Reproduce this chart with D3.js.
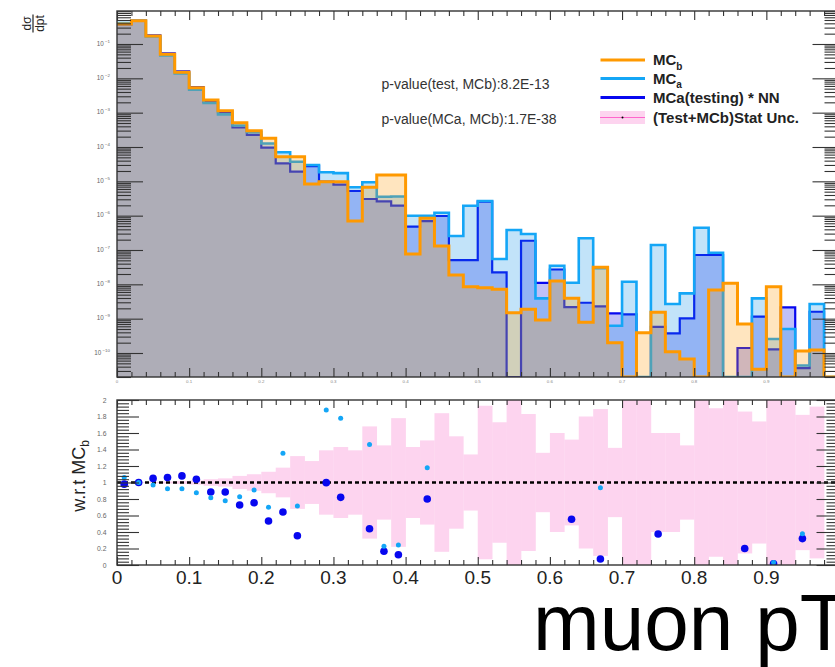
<!DOCTYPE html>
<html>
<head>
<meta charset="utf-8">
<title>muon pT</title>
<script src="https://cdn.jsdelivr.net/npm/d3@7"></script>
<style>
  html, body { margin: 0; padding: 0; background: #fff; }
  svg { display: block; }
  text { font-family: "Liberation Sans", Arial, Helvetica, sans-serif; }
</style>
</head>
<body>
<svg id="chart" width="835" height="667"></svg>
<script>
// ---- binning in muon pT: 50 bins of width 0.02 ----
const binEdges = [0.00, 0.02, 0.04, 0.06, 0.08, 0.10, 0.12, 0.14, 0.16, 0.18,
                  0.20, 0.22, 0.24, 0.26, 0.28, 0.30, 0.32, 0.34, 0.36, 0.38,
                  0.40, 0.42, 0.44, 0.46, 0.48, 0.50, 0.52, 0.54, 0.56, 0.58,
                  0.60, 0.62, 0.64, 0.66, 0.68, 0.70, 0.72, 0.74, 0.76, 0.78,
                  0.80, 0.82, 0.84, 0.86, 0.88, 0.90, 0.92, 0.94, 0.96, 0.98, 1.00];

// normalised d(sigma)/dpT per bin
const mcb = [3.83e-1, 4.77e-1, 1.71e-1, 5.01e-2, 1.50e-2, 5.33e-3, 2.34e-3, 1.14e-3, 5.10e-4, 2.99e-4,
             1.79e-4, 5.21e-5, 5.21e-5, 8.36e-6, 9.75e-6, 9.75e-6, 6.98e-7, 6.70e-6, 1.53e-5, 1.53e-5,
             7.64e-8, 8.38e-7, 1.31e-7, 1.87e-8, 8.51e-9, 7.96e-9, 7.16e-9, 1.49e-9, 1.87e-9, 9.12e-10,
             1.25e-8, 3.91e-9, 7.82e-10, 3.13e-8, 1.99e-10, 0, 3.89e-10, 1.53e-9, 1.09e-10, 6.67e-11,
             0, 6.83e-9, 1.07e-8, 6.98e-10, 3.34e-11, 8.51e-9, 0, 1.14e-10, 1.22e-10, 0];

const mca = [4.06e-1, 4.77e-1, 1.65e-1, 4.63e-2, 1.38e-2, 4.67e-3, 1.91e-3, 8.89e-4, 4.22e-4, 2.72e-4,
             1.26e-4, 7.05e-5, 3.73e-5, 2.99e-5, 1.83e-5, 1.73e-5, 6.70e-6, 9.37e-6, 3.57e-6, 3.60e-6,
             9.97e-7, 9.97e-7, 1.22e-6, 2.55e-7, 1.95e-6, 2.67e-6, 5.46e-8, 3.82e-7, 2.92e-7, 3.91e-9,
             3.48e-8, 1.11e-8, 2.19e-7, 2.93e-8, 6.22e-10, 1.19e-8, 0, 1.40e-7, 2.67e-9, 5.47e-9,
             4.46e-7, 8.34e-8, 0, 0, 3.91e-9, 2.55e-10, 4.99e-10, 4.34e-11, 2.67e-9, 0];

const mcaNN = [3.75e-1, 4.77e-1, 1.79e-1, 5.32e-2, 1.61e-2, 5.56e-3, 2.07e-3, 1.01e-3, 3.70e-4, 2.25e-4,
               9.53e-5, 3.35e-5, 1.91e-5, 2.79e-5, 9.75e-6, 8.02e-6, 5.22e-6, 3.06e-6, 2.60e-6, 1.95e-6,
               4.77e-7, 6.98e-7, 9.77e-7, 5.10e-8, 5.10e-8, 2.55e-6, 2.24e-8, 0, 1.86e-7, 1.11e-8,
               2.70e-8, 2.17e-9, 2.91e-9, 2.29e-9, 1.43e-9, 1.34e-9, 0, 5.74e-10, 3.74e-10, 1.02e-9,
               7.14e-8, 7.14e-8, 0, 1.40e-10, 1.14e-9, 1.28e-10, 2.14e-9, 3.65e-11, 1.59e-9, 0];

// ratios w.r.t. MCb inside the 0..2 window (null: not shown)
const ratioMCa = [1.06, 1.00, 0.97, 0.925, 0.925, 0.876, 0.816, 0.78, 0.828, 0.909,
                  0.70, 1.354, 0.715, null, 1.88, 1.78, null, 1.46, 0.227, 0.242,
                  null, 1.18, null, null, null, null, null, null, null, null,
                  null, null, null, 0.937, null, null, null, null, null, null,
                  null, null, null, null, null, 0.03, null, 0.38, null, null];

const ratioNN = [0.98, 1.00, 1.05, 1.06, 1.08, 1.04, 0.885, 0.885, 0.727, 0.755,
                 0.533, 0.642, 0.355, null, 0.998, 0.82, null, 0.44, 0.166, 0.125,
                 null, 0.80, null, null, null, null, null, null, null, null,
                 null, 0.554, null, 0.073, null, null, null, 0.376, null, null,
                 null, null, null, 0.2, null, 0.015, null, 0.32, null, null];

// relative statistical uncertainty of (Test+MCb) per bin
const statUnc = [0.004, 0.005, 0.008, 0.012, 0.018, 0.025, 0.04, 0.05, 0.08, 0.10,
                 0.13, 0.18, 0.32, 0.26, 0.39, 0.43, 0.39, 0.68, 0.45, 0.78,
                 0.43, 0.51, 0.84, 0.56, 0.34, 0.93, 0.73, 1.5, 0.83, 0.36,
                 0.60, 0.52, 0.80, 0.89, 0.42, 1.5, 1.5, 0.60, 0.60, 0.45,
                 1.5, 0.90, 1.5, 0.86, 0.74, 1.5, 1.5, 0.82, 0.92, null];

const xTickLabels = ["0", "0.1", "0.2", "0.3", "0.4", "0.5", "0.6", "0.7", "0.8", "0.9"];
const ratioTickLabels = ["0", "0.2", "0.4", "0.6", "0.8", "1", "1.2", "1.4", "1.6", "1.8", "2"];
const decadeExponents = [-1, -2, -3, -4, -5, -6, -7, -8, -9, -10];
const pValueLines = ["p-value(test, MCb):8.2E-13", "p-value(MCa, MCb):1.7E-38"];

const legendEntries = [
  { label: "MC", sub: "b", key: "mcb" },
  { label: "MC", sub: "a", key: "mca" },
  { label: "MCa(testing) * NN", sub: "", key: "nn" },
  { label: "(Test+MCb)Stat Unc.", sub: "", key: "unc" }
];

const colors = {
  mcb: "#ff9900", mcbFill: "#ff9900",
  mca: "#14a6f6", mcaFill: "#0b8fe7",
  nn: "#0707ef", nnFill: "#0303e3",
  unc: "#fdd4ef", uncLine: "#ff66cc",
  axis: "#333"
};

// ---- layout ----
const L = 117, R = 838.5;
const TOP_T = 11, TOP_B = 377;
const BOT_T = 400, BOT_B = 565;

const svg = d3.select("#chart");

const x = d3.scaleLinear().domain([0, 1]).range([L, R]);
const yTop = d3.scaleLog().domain([2.0e-11, 0.914]).range([TOP_B, TOP_T]);
const yRat = d3.scaleLinear().domain([0, 2]).range([BOT_B, BOT_T]);

const defs = svg.append("defs");
defs.append("clipPath").attr("id", "clipTop")
  .append("rect").attr("x", L).attr("y", TOP_T).attr("width", R - L).attr("height", TOP_B - TOP_T);
defs.append("clipPath").attr("id", "clipBot")
  .append("rect").attr("x", L).attr("y", BOT_T).attr("width", R - L).attr("height", BOT_B - BOT_T);

// ---- upper pad: translucent overlaid histograms ----
const yVal = v => (v > 0 ? yTop(v) : TOP_B);
const stepData = vals => binEdges.map((e, i) => ({ x: e, v: vals[Math.min(i, vals.length - 1)] }));

const area = d3.area().curve(d3.curveStepAfter)
  .x(d => x(d.x)).y0(TOP_B).y1(d => yVal(d.v));
const line = d3.line().curve(d3.curveStepAfter)
  .x(d => x(d.x)).y(d => yVal(d.v));

const histLayer = svg.append("g").attr("clip-path", "url(#clipTop)");
const histSeries = [
  { vals: mcaNN, stroke: colors.nn, fill: colors.nnFill, width: 2.2 },
  { vals: mca, stroke: colors.mca, fill: colors.mcaFill, width: 2.6 },
  { vals: mcb, stroke: colors.mcb, fill: colors.mcbFill, width: 3.0 }
];
histSeries.forEach(s => {
  const d = stepData(s.vals);
  histLayer.append("path").attr("d", area(d))
    .attr("fill", s.fill).attr("fill-opacity", 0.25);
  histLayer.append("path").attr("d", line(d))
    .attr("fill", "none").attr("stroke", s.stroke).attr("stroke-width", s.width)
    .attr("stroke-linejoin", "miter");
});

// ---- axes helpers ----
const styleAxis = g => {
  g.select(".domain").remove();
  g.selectAll(".tick line").attr("stroke", colors.axis).attr("stroke-width", 1.1);
  g.selectAll(".tick text").remove();
};

const logTicks = yTop.ticks(40);
const isDecade = v => Math.abs(Math.log10(v) - Math.round(Math.log10(v))) < 1e-6;
const logMajor = logTicks.filter(isDecade);
const logMinor = logTicks.filter(v => !isDecade(v));
const xMajor = x.ticks(10);
const xMinor = x.ticks(50).filter(v => !xMajor.some(m => Math.abs(m - v) < 1e-9));

// upper pad ticks
const topAxes = svg.append("g");
topAxes.append("g").attr("transform", `translate(${L},0)`)
  .call(d3.axisLeft(yTop).tickValues(logMajor).tickSize(-26)).call(styleAxis);
topAxes.append("g").attr("transform", `translate(${L},0)`)
  .call(d3.axisLeft(yTop).tickValues(logMinor).tickSize(-14)).call(styleAxis);
topAxes.append("g").attr("transform", `translate(${R},0)`)
  .call(d3.axisRight(yTop).tickValues(logMajor).tickSize(-26)).call(styleAxis);
topAxes.append("g").attr("transform", `translate(${R},0)`)
  .call(d3.axisRight(yTop).tickValues(logMinor).tickSize(-14)).call(styleAxis);
topAxes.append("g").attr("transform", `translate(0,${TOP_T})`)
  .call(d3.axisTop(x).tickValues(xMajor).tickSize(-9)).call(styleAxis);
topAxes.append("g").attr("transform", `translate(0,${TOP_T})`)
  .call(d3.axisTop(x).tickValues(xMinor).tickSize(-5)).call(styleAxis);
topAxes.append("g").attr("transform", `translate(0,${TOP_B})`)
  .call(d3.axisBottom(x).tickValues(xMajor).tickSize(-9)).call(styleAxis);
topAxes.append("g").attr("transform", `translate(0,${TOP_B})`)
  .call(d3.axisBottom(x).tickValues(xMinor).tickSize(-5)).call(styleAxis);

topAxes.append("rect").attr("x", L).attr("y", TOP_T).attr("width", R - L).attr("height", TOP_B - TOP_T)
  .attr("fill", "none").attr("stroke", colors.axis).attr("stroke-width", 1.4);

// tiny decade labels of the log axis
const decLabels = topAxes.append("g").attr("fill", "#666");
decadeExponents.forEach(e => {
  const t = decLabels.append("text").attr("x", 110).attr("y", yTop(Math.pow(10, e)) + 1.8)
    .attr("text-anchor", "end").attr("font-size", 6.3);
  t.append("tspan").text("10");
  t.append("tspan").attr("dx", 1.2).attr("dy", -3).attr("font-size", 4.4).text(String(e).replace("-", "\u2212"));
});
// tiny x labels of the upper pad
xTickLabels.forEach(lbl => {
  topAxes.append("text").attr("x", x(+lbl)).attr("y", TOP_B + 6)
    .attr("text-anchor", "middle").attr("font-size", 4.4).attr("fill", "#888").text(lbl);
});

// y title: d(sigma)/dpt as a rotated fraction
const yTitle = svg.append("g").attr("transform", "translate(33,23.5) rotate(-90)").attr("fill", "#222");
yTitle.append("text").attr("x", 0).attr("y", -2.5).attr("text-anchor", "middle").attr("font-size", 12).text("d\u03C3");
yTitle.append("line").attr("x1", -9).attr("x2", 9).attr("y1", 0).attr("y2", 0)
  .attr("stroke", "#222").attr("stroke-width", 1.2);
yTitle.append("text").attr("x", 0).attr("y", 11).attr("text-anchor", "middle").attr("font-size", 12).text("dpt");

// p-values
pValueLines.forEach((s, i) => {
  svg.append("text").attr("x", 381.5).attr("y", 88.5 + i * 35)
    .attr("font-size", 14).attr("fill", "#333").text(s);
});

// legend
const leg = svg.append("g");
const legY = [60, 78.5, 97.5, 117.5];
legendEntries.forEach((e, i) => {
  const y = legY[i];
  if (e.key === "unc") {
    leg.append("rect").attr("x", 600).attr("y", y - 6.5).attr("width", 45).attr("height", 13).attr("fill", colors.unc);
    leg.append("line").attr("x1", 600).attr("x2", 645).attr("y1", y).attr("y2", y)
      .attr("stroke", colors.uncLine).attr("stroke-width", 1.2);
    leg.append("circle").attr("cx", 622.5).attr("cy", y).attr("r", 1).attr("fill", "#000");
  } else {
    leg.append("line").attr("x1", 600.5).attr("x2", 645).attr("y1", y).attr("y2", y)
      .attr("stroke", colors[e.key]).attr("stroke-width", 3);
  }
  const t = leg.append("text").attr("x", 653).attr("y", y + 5.2)
    .attr("font-size", 15).attr("font-weight", "bold").attr("fill", "#222");
  t.append("tspan").text(e.label);
  if (e.sub) t.append("tspan").attr("dy", 4.5).attr("font-size", 10).text(e.sub);
});

// ---- lower pad: ratios w.r.t. MCb ----
const bot = svg.append("g").attr("clip-path", "url(#clipBot)");
bot.selectAll("rect.unc").data(statUnc.map((u, i) => ({ u, i })).filter(d => d.u !== null))
  .join("rect").attr("class", "unc")
  .attr("x", d => x(binEdges[d.i]))
  .attr("width", d => x(binEdges[d.i + 1]) - x(binEdges[d.i]) + 0.3)
  .attr("y", d => yRat(Math.min(2.05, 1 + d.u)))
  .attr("height", d => yRat(Math.max(-0.05, 1 - d.u)) - yRat(Math.min(2.05, 1 + d.u)))
  .attr("fill", colors.unc);

bot.append("line").attr("x1", x(0)).attr("x2", x(1)).attr("y1", yRat(1)).attr("y2", yRat(1))
  .attr("stroke", "#000").attr("stroke-width", 2.3).attr("stroke-dasharray", "4 3");

const centre = i => x((binEdges[i] + binEdges[i + 1]) / 2);
bot.selectAll("circle.nn").data(ratioNN.map((r, i) => ({ r, i })).filter(d => d.r !== null))
  .join("circle").attr("class", "nn")
  .attr("cx", d => centre(d.i)).attr("cy", d => yRat(d.r)).attr("r", 3.8).attr("fill", colors.nn);
bot.selectAll("circle.mca").data(ratioMCa.map((r, i) => ({ r, i })).filter(d => d.r !== null))
  .join("circle").attr("class", "mca")
  .attr("cx", d => centre(d.i)).attr("cy", d => yRat(d.r)).attr("r", 2.5).attr("fill", colors.mca);

// lower pad ticks
const rMajor = yRat.ticks(10);
const rMinor = d3.range(0, 2.0001, 0.04).filter(v => !rMajor.some(m => Math.abs(m - v) < 1e-6));
const botAxes = svg.append("g");
botAxes.append("g").attr("transform", `translate(${L},0)`)
  .call(d3.axisLeft(yRat).tickValues(rMajor).tickSize(-22)).call(styleAxis);
botAxes.append("g").attr("transform", `translate(${L},0)`)
  .call(d3.axisLeft(yRat).tickValues(rMinor).tickSize(-12)).call(styleAxis);
botAxes.append("g").attr("transform", `translate(${R},0)`)
  .call(d3.axisRight(yRat).tickValues(rMajor).tickSize(-22)).call(styleAxis);
botAxes.append("g").attr("transform", `translate(${R},0)`)
  .call(d3.axisRight(yRat).tickValues(rMinor).tickSize(-12)).call(styleAxis);
botAxes.append("g").attr("transform", `translate(0,${BOT_T})`)
  .call(d3.axisTop(x).tickValues(xMajor).tickSize(-8)).call(styleAxis);
botAxes.append("g").attr("transform", `translate(0,${BOT_T})`)
  .call(d3.axisTop(x).tickValues(xMinor).tickSize(-5)).call(styleAxis);
botAxes.append("g").attr("transform", `translate(0,${BOT_B})`)
  .call(d3.axisBottom(x).tickValues(xMajor).tickSize(-8)).call(styleAxis);
botAxes.append("g").attr("transform", `translate(0,${BOT_B})`)
  .call(d3.axisBottom(x).tickValues(xMinor).tickSize(-5)).call(styleAxis);
botAxes.append("rect").attr("x", L).attr("y", BOT_T).attr("width", R - L).attr("height", BOT_B - BOT_T)
  .attr("fill", "none").attr("stroke", colors.axis).attr("stroke-width", 1.4);

// ratio tick labels
ratioTickLabels.forEach(lbl => {
  botAxes.append("text").attr("x", 106.5).attr("y", yRat(+lbl) + 2.5)
    .attr("text-anchor", "end").attr("font-size", 6.8).attr("fill", "#666").text(lbl);
});
// x tick labels
xTickLabels.forEach(lbl => {
  botAxes.append("text").attr("x", x(+lbl)).attr("y", 583.5)
    .attr("text-anchor", "middle").attr("font-size", 19).attr("fill", "#222").text(lbl);
});

// ratio y title
const rTitle = svg.append("text").attr("transform", "translate(85,476) rotate(-90)")
  .attr("text-anchor", "middle").attr("font-size", 18).attr("fill", "#222");
rTitle.append("tspan").text("w.r.t MC");
rTitle.append("tspan").attr("dy", 3.5).attr("font-size", 12).text("b");

// x title
svg.append("text").attr("x", 533).attr("y", 650).attr("font-size", 80).attr("fill", "#000").text("muon pT");
</script>
</body>
</html>
